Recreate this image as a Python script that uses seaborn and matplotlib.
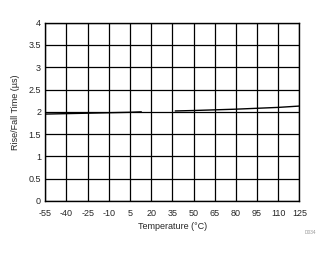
import numpy as np
import pandas as pd
import matplotlib
matplotlib.use("Agg")
import matplotlib.pyplot as plt
import seaborn as sns

temps = [-55, -40, -25, -10, 5, 13, 37, 50, 65, 80, 95, 110, 125]
rise_fall = [1.95, 1.96, 1.97, 1.98, 1.99, 2.0, 2.02, 2.03, 2.045, 2.06, 2.08, 2.10, 2.13]
segment = [0, 0, 0, 0, 0, 0, 1, 1, 1, 1, 1, 1, 1]
x_ticks = [-55, -40, -25, -10, 5, 20, 35, 50, 65, 80, 95, 110, 125]
y_ticks = [0, 0.5, 1, 1.5, 2, 2.5, 3, 3.5, 4]

sns.set_style("white")
plt.rcParams['font.family'] = ['Liberation Sans', 'DejaVu Sans']

df = pd.DataFrame({"Temperature": temps, "Time": rise_fall, "seg": segment})

fig = plt.figure(figsize=(3.32, 2.54), dpi=100)
ax = fig.add_axes([0.1364, 0.2087, 0.7656, 0.7019])
sns.lineplot(data=df, x="Temperature", y="Time", units="seg", estimator=None,
             ax=ax, color="black", linewidth=1.0)

ax.set_xlim(-55, 125)
ax.set_ylim(0, 4)
ax.set_xticks(x_ticks)
ax.set_yticks(y_ticks)
ax.set_xticklabels([str(t) for t in x_ticks], fontsize=6.5)
ax.set_yticklabels([f"{t:g}" for t in y_ticks], fontsize=6.5)
ax.grid(True, color="black", linewidth=0.9)
ax.set_axisbelow(True)
for s in ax.spines.values():
    s.set_color("black")
    s.set_linewidth(1.0)
ax.tick_params(axis="x", length=0, pad=6)
ax.tick_params(axis="y", length=0, pad=3)
ax.set_xlabel("Temperature (°C)", fontsize=6.5, labelpad=3)
ax.set_ylabel("Rise/Fall Time (µs)", fontsize=6.5, labelpad=6)

fig.text(0.934, 0.084, "D034", fontsize=3.5, color="#999999", ha="center", va="center")

fig.savefig("out.png", dpi=100)
